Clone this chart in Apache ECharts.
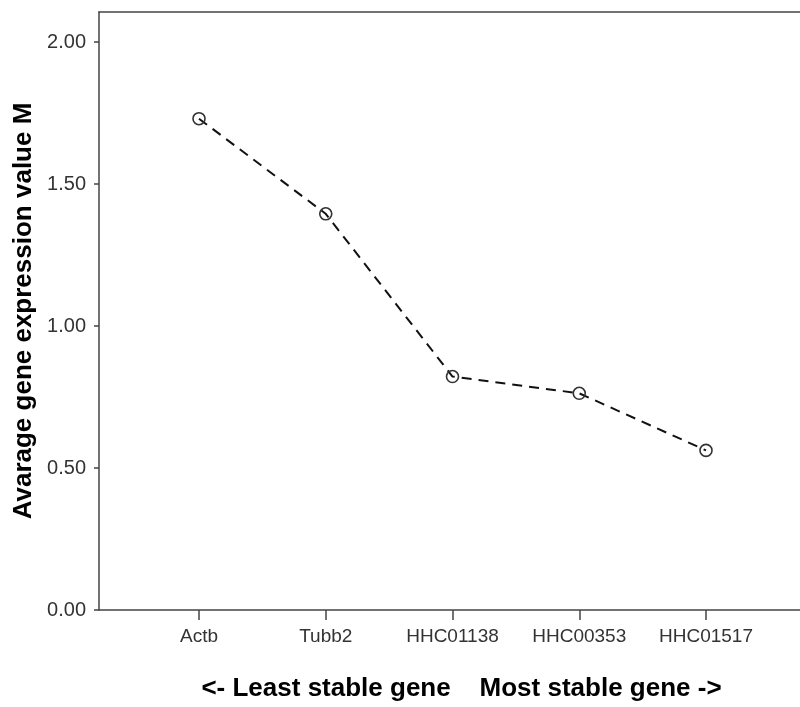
<!DOCTYPE html>
<html>
<head>
<meta charset="utf-8">
<script src="https://cdn.jsdelivr.net/npm/echarts@6/dist/echarts.min.js"></script>
<style>
  html, body { margin: 0; padding: 0; background: #fff; }
  #chart { width: 800px; height: 707px; }
</style>
</head>
<body>
<div id="chart"></div>
<script>
// Reference genes ordered from least to most stable
const genes = ['Actb', 'Tubb2', 'HHC01138', 'HHC00353', 'HHC01517'];
// Average expression stability value M per gene
const mValues = [1.73, 1.395, 0.822, 0.763, 0.562];
// Y axis range and step
const yMin = 0;
const yMax = 2;
const yStep = 0.5;

const axisColor = '#444';
const labelColor = '#333';
const fontFamily = 'Arial, "Liberation Sans", Helvetica, sans-serif';

const chart = echarts.init(document.getElementById('chart'));

chart.setOption({
  backgroundColor: '#fff',
  animation: false,
  grid: [
    // outer frame: top, left and bottom lines
    { left: 99, right: 0, top: 12, bottom: 97, containLabel: false },
    // data grid: category positions and the 0..2 value scale
    { left: 199, right: 94, top: 42, bottom: 97, containLabel: false }
  ],
  xAxis: [
    {
      gridIndex: 0, type: 'value', position: 'bottom', min: 0, max: 1,
      axisLine: { show: true, lineStyle: { color: axisColor, width: 1.5 } },
      axisTick: { show: false }, axisLabel: { show: false }, splitLine: { show: false },
      name: '<- Least stable gene    Most stable gene ->',
      nameLocation: 'middle', nameGap: 66,
      nameTextStyle: { fontFamily, fontSize: 26, fontWeight: 'bold', color: '#000', padding: [0, 0, 0, 24] }
    },
    {
      gridIndex: 0, type: 'value', position: 'top', min: 0, max: 1,
      axisLine: { show: true, lineStyle: { color: axisColor, width: 1.5 } },
      axisTick: { show: false }, axisLabel: { show: false }, splitLine: { show: false }
    },
    {
      gridIndex: 1, type: 'category', data: genes, boundaryGap: false, position: 'bottom',
      axisLine: { show: false },
      axisTick: { show: true, length: 10, inside: false, lineStyle: { color: axisColor, width: 1.5 } },
      axisLabel: { fontFamily, fontSize: 19, color: labelColor, margin: 17 },
      splitLine: { show: false }
    }
  ],
  yAxis: [
    {
      gridIndex: 0, type: 'value', min: 0, max: 1,
      axisLine: { show: true, lineStyle: { color: axisColor, width: 1.5 } },
      axisTick: { show: false }, axisLabel: { show: false }, splitLine: { show: false },
      name: 'Avarage gene expression value M',
      nameLocation: 'middle', nameGap: 62,
      nameTextStyle: { fontFamily, fontSize: 26, fontWeight: 'bold', color: '#000' }
    },
    {
      gridIndex: 1, type: 'value', min: yMin, max: yMax, interval: yStep,
      position: 'left', offset: 100,
      axisLine: { show: false },
      axisTick: { show: true, length: 5, lineStyle: { color: axisColor, width: 1.5 } },
      axisLabel: {
        fontFamily, fontSize: 20, color: labelColor, margin: 13,
        formatter: v => v.toFixed(2)
      },
      splitLine: { show: false }
    }
  ],
  series: [
    {
      type: 'line',
      xAxisIndex: 2, yAxisIndex: 1,
      data: mValues,
      symbol: 'circle', symbolSize: 12,
      lineStyle: { color: '#111', width: 2, type: [10, 7] },
      itemStyle: { color: 'rgba(0,0,0,0)', borderColor: '#333', borderWidth: 1.6 }
    }
  ]
});
</script>
</body>
</html>
